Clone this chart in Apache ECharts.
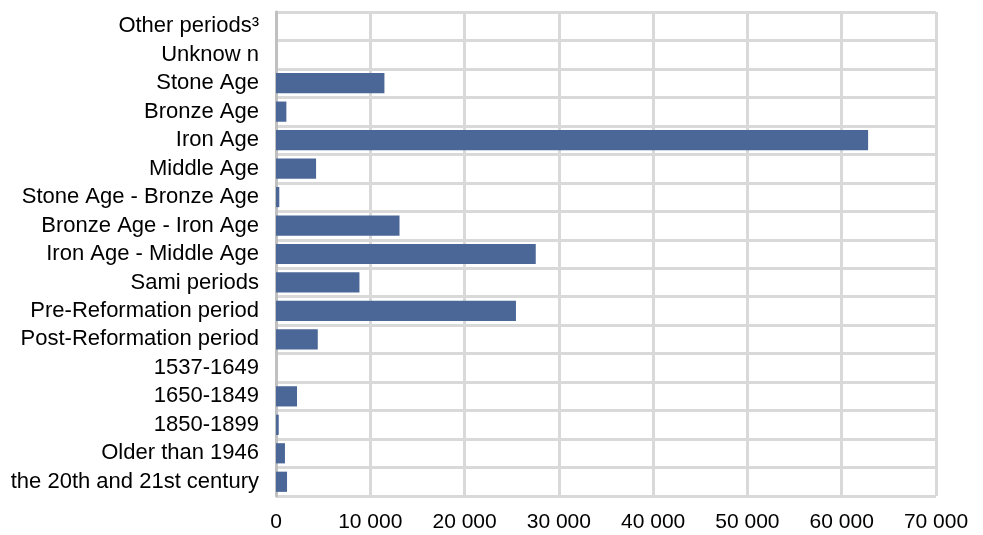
<!DOCTYPE html>
<html>
<head>
<meta charset="utf-8">
<script src="https://cdn.jsdelivr.net/npm/echarts@6/dist/echarts.min.js"></script>
<style>
html,body{margin:0;padding:0;background:#fff;}
#chart{width:983px;height:535px;}
</style>
</head>
<body>
<div id="chart"></div>
<script>
var categories = [
  "Other periods\u00B3",
  "Unknow n",
  "Stone Age",
  "Bronze Age",
  "Iron Age",
  "Middle Age",
  "Stone Age - Bronze Age",
  "Bronze Age - Iron Age",
  "Iron Age - Middle Age",
  "Sami periods",
  "Pre-Reformation period",
  "Post-Reformation period",
  "1537-1649",
  "1650-1849",
  "1850-1899",
  "Older than 1946",
  "the 20th and 21st century"
];
var values = [0, 0, 11500, 1100, 62800, 4250, 350, 13100, 27550, 8850, 25450, 4430, 0, 2230, 290, 950, 1170];
var xTicks = [0, 10000, 20000, 30000, 40000, 50000, 60000, 70000];

function fmt(v) {
  return String(v).replace(/\B(?=(\d{3})+(?!\d))/g, ' ');
}

var chart = echarts.init(document.getElementById('chart'), null, {renderer: 'canvas'});
chart.setOption({
  animation: false,
  backgroundColor: '#ffffff',
  grid: {left: 276, right: 47, top: 12, bottom: 39, containLabel: false},
  xAxis: {
    type: 'value',
    min: xTicks[0],
    max: xTicks[xTicks.length - 1],
    interval: xTicks[1] - xTicks[0],
    axisLine: {show: false},
    axisTick: {show: false},
    axisLabel: {
      margin: 16,
      color: '#000',
      fontFamily: 'Liberation Sans, Arial, sans-serif',
      fontSize: 21,
      formatter: function (v) { return fmt(v); }
    },
    splitLine: {show: true, lineStyle: {color: '#d9d9d9', width: 3}}
  },
  yAxis: {
    type: 'category',
    data: categories,
    inverse: true,
    axisLine: {show: true, lineStyle: {color: '#c0c0c0', width: 3}},
    axisTick: {show: false},
    axisLabel: {
      interval: 0,
      hideOverlap: false,
      margin: 17,
      color: '#000',
      fontFamily: 'Liberation Sans, Arial, sans-serif',
      fontSize: 22,
      lineHeight: 24
    },
    splitLine: {show: true, interval: 0, lineStyle: {color: '#d9d9d9', width: 3}}
  },
  series: [{
    type: 'bar',
    data: values,
    barCategoryGap: '29%',
    itemStyle: {color: '#4A6798'}
  }]
});
</script>
</body>
</html>
